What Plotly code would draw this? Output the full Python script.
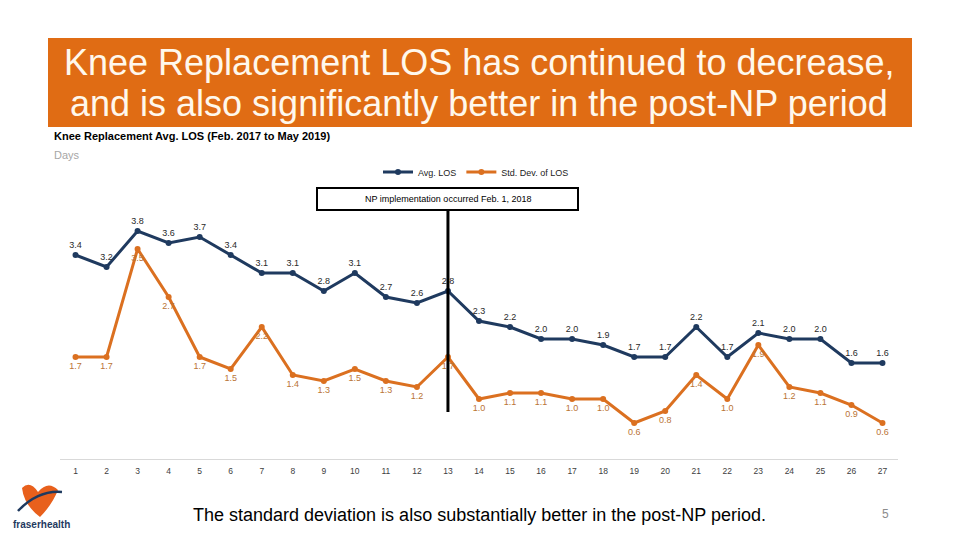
import plotly.graph_objects as go

# ---- data ----
months = list(range(1, 28))
avg_los = [3.4, 3.2, 3.8, 3.6, 3.7, 3.4, 3.1, 3.1, 2.8, 3.1, 2.7, 2.6, 2.8, 2.3,
           2.2, 2.0, 2.0, 1.9, 1.7, 1.7, 2.2, 1.7, 2.1, 2.0, 2.0, 1.6, 1.6]
std_los = [1.7, 1.7, 3.5, 2.7, 1.7, 1.5, 2.2, 1.4, 1.3, 1.5, 1.3, 1.2, 1.7, 1.0,
           1.1, 1.1, 1.0, 1.0, 0.6, 0.8, 1.4, 1.0, 1.9, 1.2, 1.1, 0.9, 0.6]
np_month = 13

NAVY = "#1F3A5F"
ORANGE = "#DB7020"
OFF = 8  # page body margin
W, H = 952, 532
L, R, T, B = 60 - OFF, W - (898 - OFF), 207 - OFF, H - (459 - OFF)
PW, PH = W - L - R, H - T - B


def px(x):
    return (x - OFF - L) / PW


def py(y):
    return (T + PH - (y - OFF)) / PH


fig = go.Figure()
fig.add_trace(go.Scatter(
    x=months, y=avg_los, name="Avg. LOS", mode="lines+markers+text",
    line=dict(color=NAVY, width=3), marker=dict(size=6, color=NAVY),
    text=[f"{v:.1f}" for v in avg_los], textposition="top center",
    textfont=dict(size=9, color="#2A2A2A"), cliponaxis=False))
fig.add_trace(go.Scatter(
    x=months, y=std_los, name="Std. Dev. of LOS", mode="lines+markers+text",
    line=dict(color=ORANGE, width=3), marker=dict(size=6, color=ORANGE),
    text=[f"{v:.1f}" for v in std_los], textposition="bottom center",
    textfont=dict(size=9, color="#BA7436"), cliponaxis=False))

shapes = []
annotations = []

FONT = "Liberation Sans, Arial"
# title bar
shapes.append(dict(type="rect", xref="paper", yref="paper",
                   x0=px(48), x1=px(912), y0=py(127), y1=py(38),
                   fillcolor="#E06C14", line=dict(width=0), layer="below"))
for txt, yy in [("Knee Replacement LOS has continued to decrease,", 62),
                ("and is also significantly better in the post-NP period", 104)]:
    annotations.append(dict(xref="paper", yref="paper", x=px(479), y=py(yy),
                            text=txt, showarrow=False, xanchor="center", yanchor="middle",
                            font=dict(family=FONT, size=36, color="#FFF8EC")))
# subtitle
annotations.append(dict(xref="paper", yref="paper", x=px(52), y=py(136),
                        text="<b>Knee Replacement Avg. LOS (Feb. 2017 to May 2019)</b>",
                        showarrow=False, xanchor="left", yanchor="middle",
                        font=dict(family=FONT, size=11, color="#000000")))
annotations.append(dict(xref="paper", yref="paper", x=px(52), y=py(155),
                        text="Days", showarrow=False, xanchor="left", yanchor="middle",
                        font=dict(family=FONT, size=11, color="#A6A6A6")))
# NP implementation box
shapes.append(dict(type="rect", xref="paper", yref="paper",
                   x0=px(317), x1=px(578), y0=py(210), y1=py(188),
                   line=dict(color="#000000", width=2), fillcolor="white"))
annotations.append(dict(xref="paper", yref="paper", x=px(448), y=py(199),
                        text="NP implementation occurred Feb. 1, 2018", showarrow=False,
                        xanchor="center", yanchor="middle",
                        font=dict(family=FONT, size=9, color="#000000")))
# vertical line
shapes.append(dict(type="line", xref="x", yref="paper", x0=np_month, x1=np_month,
                   y0=py(412), y1=py(210), line=dict(color="#000000", width=3)))
# footer text
annotations.append(dict(xref="paper", yref="paper", x=px(479), y=py(515),
                        text="The standard deviation is also substantially better in the post-NP period.",
                        showarrow=False, xanchor="center", yanchor="middle",
                        font=dict(family=FONT, size=18, color="#000000")))
annotations.append(dict(xref="paper", yref="paper", x=px(885), y=py(514),
                        text="5", showarrow=False, xanchor="center", yanchor="middle",
                        font=dict(family=FONT, size=12, color="#8C8C8C")))
# logo
heart = (f"M {px(22)} {py(488)} Q {px(30)} {py(480)} {px(38)} {py(492)} "
         f"Q {px(48)} {py(480)} {px(58)} {py(490)} Q {px(52)} {py(505)} {px(40)} {py(517)} "
         f"Q {px(24)} {py(505)} {px(22)} {py(488)} Z")
shapes.append(dict(type="path", xref="paper", yref="paper", path=heart,
                   fillcolor="#E8601C", line=dict(width=0)))
shapes.append(dict(type="path", xref="paper", yref="paper",
                   path=f"M {px(18)} {py(511)} Q {px(38)} {py(490)} {px(62)} {py(492)}",
                   line=dict(color=NAVY, width=2.5)))
annotations.append(dict(xref="paper", yref="paper", x=px(41), y=py(524),
                        text="<b>fraserhealth</b>", showarrow=False,
                        xanchor="center", yanchor="middle",
                        font=dict(family="Liberation Sans Narrow, Liberation Sans", size=10, color=NAVY)))

fig.update_layout(
    width=W, height=H, margin=dict(l=L, r=R, t=T, b=B),
    paper_bgcolor="white", plot_bgcolor="white",
    shapes=shapes, annotations=annotations,
    font=dict(family=FONT, size=8, color="#404040"),
    legend=dict(orientation="h", x=px(476), y=py(172), xanchor="center", yanchor="middle",
                font=dict(size=9, color="#222222"), itemwidth=30, bgcolor="rgba(0,0,0,0)"),
    xaxis=dict(range=[0.5, 27.5], tickmode="array", tickvals=months,
               ticktext=[str(m) for m in months], showgrid=False, zeroline=False,
               showline=True, linecolor="#D9D9D9", linewidth=1, ticks="",
               ticklabelstandoff=4,
               tickfont=dict(size=8.5, color="#404040")),
    yaxis=dict(range=[0, 4.2], visible=False, showgrid=False, zeroline=False),
)

fig.write_html("out.html")
